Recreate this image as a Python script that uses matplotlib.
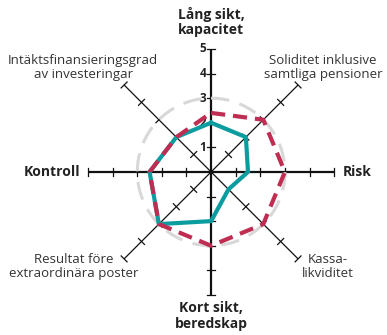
import numpy as np
import matplotlib
matplotlib.use("Agg")
import matplotlib.pyplot as plt

# axes, clockwise from the top
axis_labels = [
    "Lång sikt,\nkapacitet",
    "Soliditet inklusive\nsamtliga pensioner",
    "Risk",
    "Kassa-\nlikviditet",
    "Kort sikt,\nberedskap",
    "Resultat före\nextraordinära poster",
    "Kontroll",
    "Intäktsfinansieringsgrad\nav investeringar",
]
bold_axes = [0, 2, 4, 6]
scale_ticks = [1, 2, 3, 4, 5]
reference_level = 3

teal_values = [2, 2, 1.5, 1, 2, 3, 2.5, 2]
crimson_values = [2.4, 3, 3, 3, 3, 3, 2.5, 2]

TEAL = "#0b9ca0"
CRIMSON = "#bf2e52"
GREY = "#d8d8d8"
TEXT = "#333333"

plt.rcParams['font.family'] = ['Open Sans', 'DejaVu Sans']

n = len(axis_labels)
angles = np.arange(n) * 2 * np.pi / n


def to_xy(r, a):
    return r * np.sin(a), r * np.cos(a)


fig = plt.figure(figsize=(3.87, 3.35), dpi=100)
ax = fig.add_axes([0, 0, 1, 1])
ax.set_xlim(-8.58, 7.15)
ax.set_ylim(-6.63, 6.99)
ax.axis("off")

rmax = scale_ticks[-1]
for i, a in enumerate(angles):
    main = i in bold_axes
    lw = 1.6 if main else 0.9
    x, y = to_xy(np.array([0, rmax]), a)
    ax.plot(x, y, color="#111111", lw=lw, zorder=1, solid_capstyle="butt")
    # ticks perpendicular to the axis
    px, py = np.cos(a), -np.sin(a)
    for t in scale_ticks:
        half = 0.17
        cx, cy = to_xy(t, a)
        ax.plot([cx - half * px, cx + half * px], [cy - half * py, cy + half * py],
                color="#111111", lw=0.9, zorder=1)

# scale numbers on the top axis
for t in scale_ticks:
    ax.text(-0.2, t, str(t), ha="right", va="center", fontsize=8.5,
            fontweight="bold", color="#222222", zorder=2)

# grey reference circle
th = np.linspace(0, 2 * np.pi, 400)
ax.plot(reference_level * np.sin(th), reference_level * np.cos(th), color=GREY,
        lw=2.2, ls=(0, (6, 3.5)), zorder=2)

# series
for vals, col, ls, z in [(teal_values, TEAL, "-", 3), (crimson_values, CRIMSON, (0, (3.4, 1.9)), 4)]:
    v = np.array(vals + vals[:1])
    a = np.append(angles, angles[0])
    x, y = to_xy(v, a)
    ax.plot(x, y, color=col, lw=3.0, ls=ls, zorder=z, solid_joinstyle="miter")

# axis labels
label_pos = [
    (0.0, 6.10, "center"),
    (4.55, 4.25, "center"),
    (5.35, 0.0, "left"),
    (4.75, -3.85, "center"),
    (0.0, -5.85, "center"),
    (-5.60, -3.85, "center"),
    (-5.30, 0.0, "right"),
    (-5.20, 4.25, "center"),
]
for i, (lx, ly, ha) in enumerate(label_pos):
    main = i in bold_axes
    ax.text(lx, ly, axis_labels[i], ha=ha, va="center", multialignment="center",
            fontsize=10 if main else 9.5, fontweight="bold" if main else "normal",
            color="#222222" if main else TEXT, linespacing=1.15)

fig.savefig("out.png", dpi=100)
